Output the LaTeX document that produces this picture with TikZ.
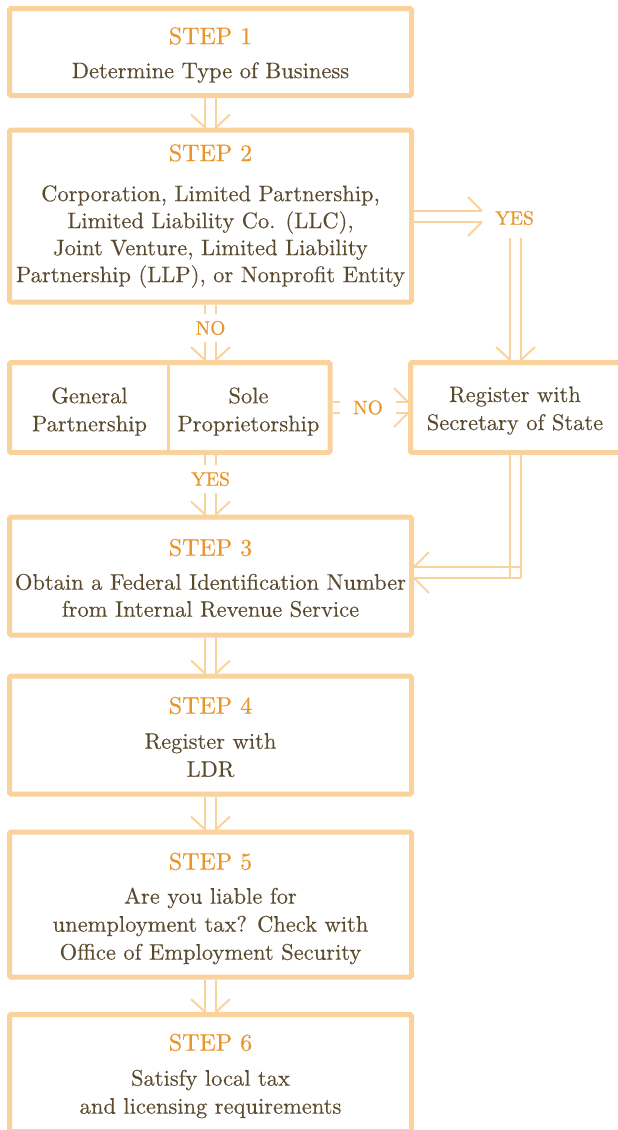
\documentclass[tikz,border=0pt]{standalone}
\usepackage{fontspec}
\setmainfont{lmroman10-regular.otf}[FakeBold=0.25]
\newfontfamily\stepfont{lmroman10-regular.otf}[FakeBold=0.5]
\usetikzlibrary{calc}
\definecolor{bord}{HTML}{F9D39B}
\definecolor{steporange}{HTML}{E9952A}
\definecolor{bodybrown}{HTML}{5A4A2E}
\tikzset{
  box/.style={draw=bord, line width=5pt, rounded corners=1.5pt, inner sep=0pt},
  boxtext/.style={inner sep=0pt, align=center, text=bodybrown, font=\fontsize{22.5}{28}\selectfont},
  divider/.style={draw=bord, line width=2.5pt},
  conn/.style={draw=bord, line width=2pt},
  lab/.style={text=steporange, font=\stepfont\fontsize{19.5}{20}\selectfont, inner sep=0pt},
}
\newcommand\steplabel[2]{{\stepfont\fontsize{24}{28}\selectfont\textcolor{steporange}{STEP #1}}\\[#2]}
\newcommand\vshafts[2]{\draw[conn] ($(#1)+(-5.5,0)$) -- ($(#2)+(-5.5,0)$) ($(#1)+(5.5,0)$) -- ($(#2)+(5.5,0)$);}
\newcommand\vhead[1]{\draw[conn] ($(#1)+(-19.5,-13)$) -- ($(#1)+(-5.5,0)$) ($(#1)+(19.5,-13)$) -- ($(#1)+(5.5,0)$);}
\newcommand\hshafts[2]{\draw[conn] ($(#1)+(0,-5.5)$) -- ($(#2)+(0,-5.5)$) ($(#1)+(0,5.5)$) -- ($(#2)+(0,5.5)$);}
\newcommand\rhead[1]{\draw[conn] ($(#1)+(-14,-19.5)$) -- ($(#1)+(0,-5.5)$) ($(#1)+(-14,19.5)$) -- ($(#1)+(0,5.5)$);}
\newcommand\lhead[1]{\draw[conn] ($(#1)+(15,-20.5)$) -- ($(#1)+(0,-5.5)$) ($(#1)+(15,20.5)$) -- ($(#1)+(0,5.5)$);}
\begin{document}
\begin{tikzpicture}[x=1pt,y=-1pt]
\useasboundingbox (0,0) rectangle (618,1130);
\clip (0,0) rectangle (618,1130);

% boxes
\node[box, minimum width=402, minimum height=87] (s1) at (210.5,52) {};
\node[boxtext] (s1t) at ($(s1.center)+(0,3)$) {\steplabel{1}{6pt}Determine Type of Business};
\node[box, minimum width=402, minimum height=172] (s2) at (210.5,216) {};
\node[boxtext, font=\fontsize{22.5}{27}\selectfont] (s2t) at ($(s2.center)+(0,0)$) {\steplabel{2}{13pt}Corporation, Limited Partnership,\\Limited Liability Co. (LLC),\\Joint Venture, Limited Liability\\Partnership (LLP), or Nonprofit Entity};
\node[box, minimum width=320.5, minimum height=90] (gs) at (169.75,407.5) {};
\draw[divider] (168.5,365) -- (168.5,450.5);
\node[boxtext] (gp) at (89.5,411.5) {General\\Partnership};
\node[boxtext] (sp) at (248.5,411.5) {Sole\\Proprietorship};
\node[box, minimum width=211.5, minimum height=90] (reg) at (516.25,407.5) {};
\node[boxtext] (regt) at (515,410.5) {Register with\\Secretary of State};
\node[box, minimum width=402, minimum height=118] (s3) at (210.5,576) {};
\node[boxtext, font=\fontsize{22.5}{27}\selectfont] (s3t) at ($(s3.center)+(0,2)$) {\steplabel{3}{7pt}Obtain a Federal Identification Number\\from Internal Revenue Service};
\node[box, minimum width=402, minimum height=118] (s4) at (210.5,735) {};
\node[boxtext] (s4t) at ($(s4.center)+(0,2)$) {\steplabel{4}{7pt}Register with\\LDR};
\node[box, minimum width=402, minimum height=145] (s5) at (210.5,904.5) {};
\node[boxtext] (s5t) at ($(s5.center)+(0,4)$) {\steplabel{5}{6pt}Are you liable for\\unemployment tax? Check with\\Office of Employment Security};
\node[box, minimum width=402, minimum height=117] (s6) at (210.5,1073) {};
\node[boxtext] (s6t) at ($(s6.center)+(0,3)$) {\steplabel{6}{7pt}Satisfy local tax\\and licensing requirements};

% labels
\node[lab, minimum height=28] (no1) at (210.5,328) {NO};
\node[lab, minimum height=28] (yes1) at (210.5,479) {YES};
\node[lab, minimum height=40] (yes2) at (514.5,218) {YES};
\node[lab, minimum width=56] (no2) at (368,407.5) {NO};

% coordinates
\coordinate (t1) at (no1.south |- gs.north);
\coordinate (b1) at (yes1.north |- gs.south);
\coordinate (t2) at (yes1.south |- s3.north);
\coordinate (h1) at (482,216.5);
\coordinate (h0) at (s2.east |- h1);
\coordinate (yb) at (515.5,238);
\coordinate (t3) at (yb |- reg.north);
\coordinate (c1) at (515.5,572.5);
\coordinate (r1) at (reg.south -| c1);
\coordinate (c1b) at ($(c1)+(0,5.5)$);
\coordinate (c1r) at ($(c1)+(5.5,0)$);
\coordinate (e3) at (c1 -| s3.east);

% connectors
\vshafts{s1.south}{s2.north}\vhead{s2.north}
\vshafts{s2.south}{no1.north}
\vshafts{no1.south}{t1}\vhead{t1}
\vshafts{b1}{yes1.north}
\vshafts{yes1.south}{t2}\vhead{t2}
\vshafts{s3.south}{s4.north}\vhead{s4.north}
\vshafts{s4.south}{s5.north}\vhead{s5.north}
\vshafts{s5.south}{s6.north}\vhead{s6.north}

\hshafts{h0}{h1}\rhead{h1}
\vshafts{yb}{t3}\vhead{t3}

\hshafts{gs.east}{no2.west}
\hshafts{no2.east}{reg.west}\rhead{reg.west}

\vshafts{r1}{c1b}
\hshafts{c1r}{e3}\lhead{e3}
\end{tikzpicture}
\end{document}
